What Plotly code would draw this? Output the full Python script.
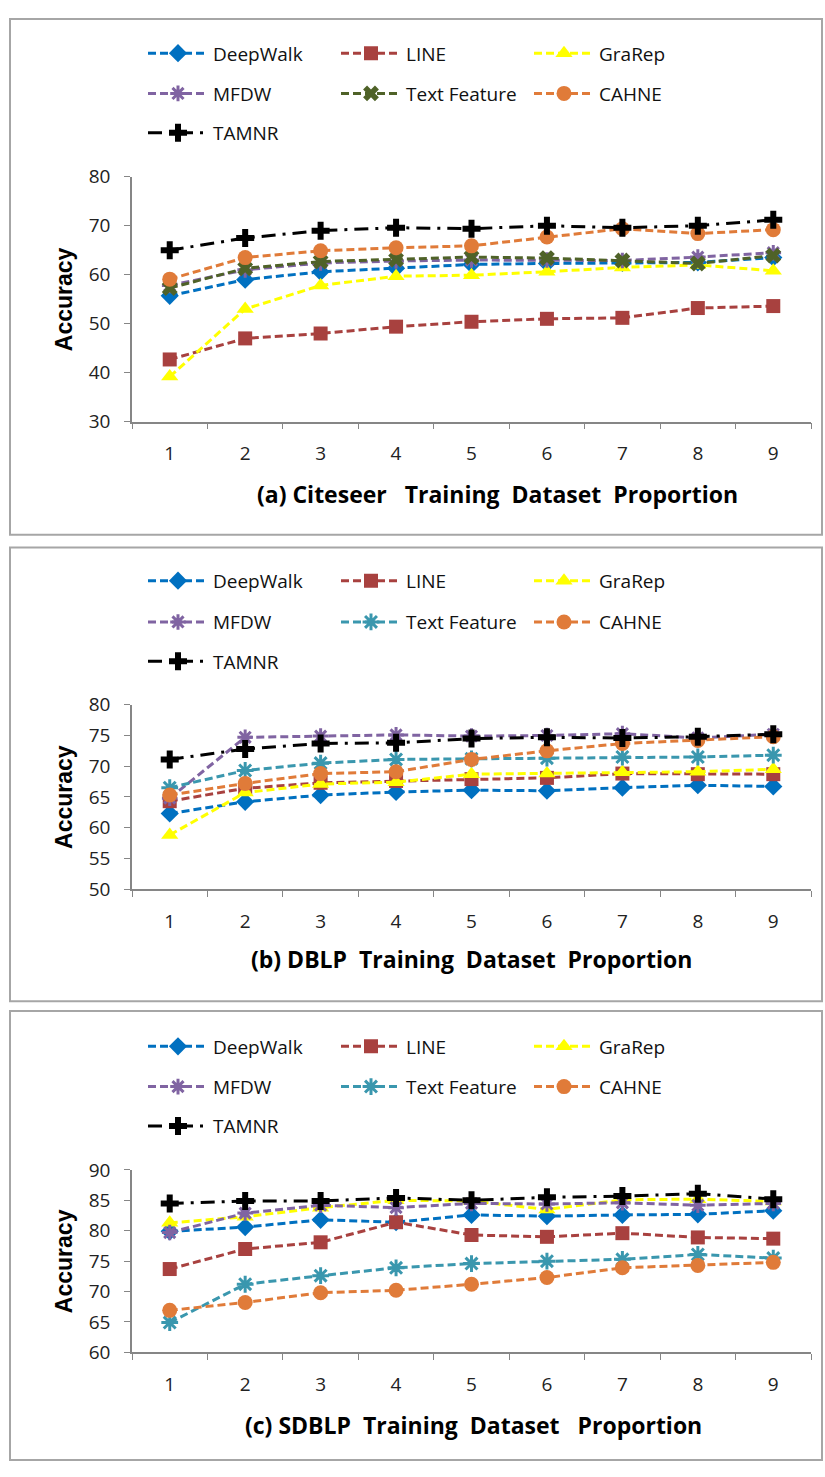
import plotly.graph_objects as go

W, H = 825, 1477

categories = ["1", "2", "3", "4", "5", "6", "7", "8", "9"]
methods = ["DeepWalk", "LINE", "GraRep", "MFDW", "Text Feature", "CAHNE", "TAMNR"]

# Panel (a) Citeseer
cite_deepwalk = [55.7, 59.0, 60.6, 61.3, 62.1, 62.3, 62.4, 62.5, 63.5]
cite_line = [42.7, 47.0, 48.0, 49.4, 50.4, 51.0, 51.2, 53.2, 53.6]
cite_grarep = [39.2, 53.0, 57.8, 59.7, 59.9, 60.6, 61.5, 62.0, 60.8]
cite_mfdw = [57.8, 61.0, 62.4, 62.8, 63.0, 63.0, 62.9, 63.6, 64.5]
cite_text = [57.3, 61.3, 62.7, 63.1, 63.6, 63.4, 62.9, 62.3, 63.9]
cite_cahne = [59.1, 63.5, 64.9, 65.5, 65.9, 67.7, 69.4, 68.4, 69.2]
cite_tamnr = [65.0, 67.5, 69.0, 69.6, 69.4, 70.0, 69.6, 70.0, 71.2]

# Panel (b) DBLP
dblp_deepwalk = [62.3, 64.2, 65.3, 65.8, 66.1, 66.0, 66.5, 66.9, 66.7]
dblp_line = [64.3, 66.4, 67.3, 67.6, 67.9, 68.1, 68.8, 68.7, 68.7]
dblp_grarep = [58.8, 65.7, 67.1, 67.4, 68.7, 68.8, 69.0, 69.1, 69.5]
dblp_mfdw = [64.8, 74.7, 74.9, 75.1, 74.9, 75.0, 75.3, 74.6, 75.2]
dblp_text = [66.5, 69.3, 70.5, 71.1, 71.2, 71.3, 71.5, 71.5, 71.8]
dblp_cahne = [65.3, 67.2, 68.8, 69.1, 71.1, 72.5, 73.7, 74.2, 74.8]
dblp_tamnr = [71.1, 72.8, 73.7, 73.8, 74.5, 74.7, 74.6, 74.8, 75.2]

# Panel (c) SDBLP
sdblp_deepwalk = [79.9, 80.6, 81.8, 81.4, 82.6, 82.4, 82.6, 82.7, 83.3]
sdblp_line = [73.7, 77.0, 78.1, 81.4, 79.3, 79.0, 79.6, 78.9, 78.7]
sdblp_grarep = [81.3, 82.3, 83.8, 85.0, 84.9, 83.5, 85.1, 85.2, 84.8]
sdblp_mfdw = [79.7, 82.9, 84.2, 83.8, 84.5, 84.4, 84.6, 84.2, 84.5]
sdblp_text = [64.9, 71.2, 72.6, 73.9, 74.6, 75.0, 75.3, 76.1, 75.5]
sdblp_cahne = [66.9, 68.2, 69.8, 70.2, 71.2, 72.3, 73.9, 74.3, 74.8]
sdblp_tamnr = [84.5, 84.9, 84.9, 85.4, 85.0, 85.5, 85.7, 86.1, 85.2]

panels = [
    dict(data=[cite_deepwalk, cite_line, cite_grarep, cite_mfdw, cite_text, cite_cahne, cite_tamnr],
         yrange=[30, 80], dtick=10, ytop=166.7, ybot=416.0, box=(6, 531),
         legrows=(41, 82, 122), title="(a) Citeseer\u00a0\u00a0 Training\u00a0 Dataset\u00a0 Proportion",
         title_x=497, title_y=490, text_color="#4F6228", text_symbol="x"),
    dict(data=[dblp_deepwalk, dblp_line, dblp_grarep, dblp_mfdw, dblp_text, dblp_cahne, dblp_tamnr],
         yrange=[50, 80], dtick=5, ytop=704.2, ybot=891.7, box=(544, 1006),
         legrows=(578, 620, 660), title="(b) DBLP\u00a0 Training\u00a0 Dataset\u00a0 Proportion",
         title_x=471, title_y=963, text_color="#3A97AE", text_symbol="asterisk-open"),
    dict(data=[sdblp_deepwalk, sdblp_line, sdblp_grarep, sdblp_mfdw, sdblp_text, sdblp_cahne, sdblp_tamnr],
         yrange=[60, 90], dtick=5, ytop=1177.7, ybot=1363.3, box=(1016, 1473),
         legrows=(1052, 1093, 1133), title="(c) SDBLP\u00a0 Training\u00a0 Dataset\u00a0\u00a0 Proportion",
         title_x=473, title_y=1437, text_color="#3A97AE", text_symbol="asterisk-open"),
]

colors = ["#0070C0", "#A8413F", "#FFFF00", "#8064A2", None, "#E07B39", "#000000"]
symbols = ["diamond", "square", "triangle-up", "asterisk-open", None, "circle", "cross"]
sizes = [14, 14, 15, 13, 14, 15, 15]

X0, X1 = 132, 811


def py(p):
    return 1 - p / H


def px(p):
    return p / W


fig = go.Figure()
FONT = "Open Sans, Liberation Sans, sans-serif"
legend_layouts = {}
shapes = []
annotations = []

for pi, pan in enumerate(panels):
    sfx = "" if pi == 0 else str(pi + 1)
    xa, ya = "x" + sfx, "y" + sfx
    for mi, name in enumerate(methods):
        col = colors[mi] if mi != 4 else pan["text_color"]
        sym = symbols[mi] if mi != 4 else pan["text_symbol"]
        if mi == 6:
            dash = "14px,7px,3px,7px"
        else:
            dash = "8px,4px"
        row = 0 if mi < 3 else (1 if mi < 6 else 2)
        legname = "legend" if (pi * 3 + row) == 0 else "legend" + str(pi * 3 + row + 1)
        mline = dict(width=3, color=col) if "open" in sym else dict(width=0)
        fig.add_trace(go.Scatter(
            x=categories, y=pan["data"][mi], name=name, mode="lines+markers",
            line=dict(color=col, width=3, dash=dash),
            marker=dict(symbol=sym, size=sizes[mi], color=col, line=mline),
            xaxis=xa, yaxis=ya, legend=legname, cliponaxis=False,
        ))
    fig.update_layout(**{
        ("xaxis" + sfx): dict(
            domain=[px(X0), px(X1)], anchor=ya, type="category",
            range=[-0.5, 8.5], tickson="boundaries", ticks="outside", ticklen=6,
            tickcolor="#868686", showline=True, linecolor="#868686", linewidth=1.5,
            showgrid=False, zeroline=False, ticklabelstandoff=14,
            tickfont=dict(family=FONT, size=19, color="#222222"),
        ),
        ("yaxis" + sfx): dict(
            domain=[py(pan["ybot"]), py(pan["ytop"])], anchor=xa,
            range=pan["yrange"], dtick=pan["dtick"], ticks="outside", ticklen=6,
            tickcolor="#868686", showline=True, linecolor="#868686", linewidth=1.5,
            showgrid=False, zeroline=False, ticklabelstandoff=10,
            tickfont=dict(family=FONT, size=19, color="#222222"),
        ),
    })
    for r in range(3):
        idx = pi * 3 + r
        lname = "legend" if idx == 0 else "legend" + str(idx + 1)
        legend_layouts[lname] = dict(
            orientation="h", x=px(143), xanchor="left", y=py(pan["legrows"][r]),
            yanchor="middle", entrywidth=118, entrywidthmode="pixels",
            itemwidth=60, font=dict(family=FONT, size=19, color="#111111"),
            bgcolor="rgba(0,0,0,0)", traceorder="normal",
        )
    shapes.append(dict(type="rect", xref="paper", yref="paper",
                       x0=px(10), x1=px(822), y0=py(pan["box"][1]), y1=py(pan["box"][0]),
                       line=dict(color="#A6A6A6", width=2), fillcolor="rgba(0,0,0,0)"))
    annotations.append(dict(text="<b>Accuracy</b>", textangle=-90, xref="paper", yref="paper",
                            x=px(64), y=py((pan["ytop"] + pan["ybot"]) / 2), showarrow=False,
                            xanchor="center", yanchor="middle",
                            font=dict(family="Liberation Sans, Arial, sans-serif", size=23, color="#000000")))
    annotations.append(dict(text="<b>" + pan["title"] + "</b>", xref="paper", yref="paper",
                            x=px(pan["title_x"]), y=py(pan["title_y"]), showarrow=False,
                            xanchor="center", yanchor="middle",
                            font=dict(family=FONT, size=23, color="#000000")))

fig.update_layout(
    width=W, height=H, margin=dict(l=0, r=0, t=0, b=0),
    paper_bgcolor="white", plot_bgcolor="white",
    shapes=shapes, annotations=annotations, showlegend=True,
    **legend_layouts,
)

fig.write_html("out.html", config={"displayModeBar": False},
               post_script="document.body.style.margin='0px';")
